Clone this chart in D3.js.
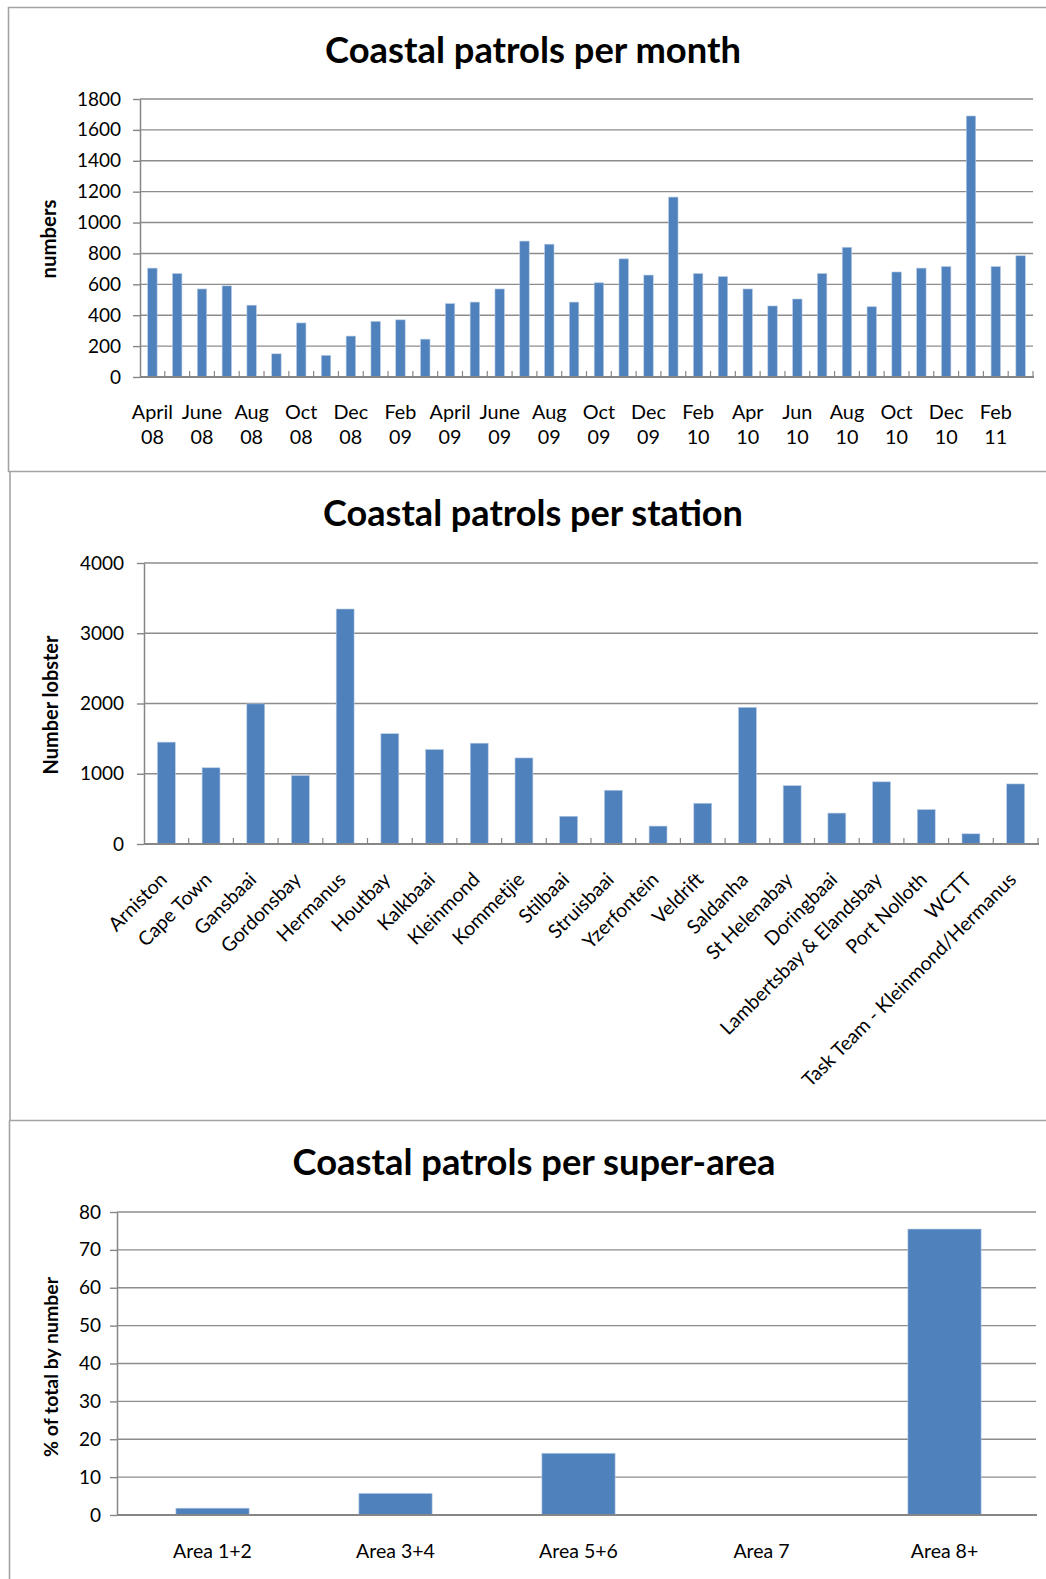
<!DOCTYPE html>
<html><head><meta charset="utf-8">
<script src="https://cdn.jsdelivr.net/npm/d3@7"></script>
<style>
html,body{margin:0;padding:0;background:#fff;}
svg{display:block;font-family:Lato,"Open Sans",sans-serif;}
</style></head>
<body>
<svg id="c" width="1046" height="1579"></svg>
<script>
// ---------- DATA ----------
const months = ["Apr 08","May 08","Jun 08","Jul 08","Aug 08","Sep 08","Oct 08","Nov 08","Dec 08","Jan 09","Feb 09","Mar 09",
  "Apr 09","May 09","Jun 09","Jul 09","Aug 09","Sep 09","Oct 09","Nov 09","Dec 09","Jan 10","Feb 10","Mar 10",
  "Apr 10","May 10","Jun 10","Jul 10","Aug 10","Sep 10","Oct 10","Nov 10","Dec 10","Jan 11","Feb 11","Mar 11"];
const patrolsPerMonth = [705,670,570,590,465,150,350,140,265,360,370,245,
  475,485,570,880,860,485,610,765,660,1165,670,650,
  570,460,505,670,840,455,680,705,715,1690,715,785];
const monthTickLabels = [["April","08"],["June","08"],["Aug","08"],["Oct","08"],["Dec","08"],["Feb","09"],
  ["April","09"],["June","09"],["Aug","09"],["Oct","09"],["Dec","09"],["Feb","10"],
  ["Apr","10"],["Jun","10"],["Aug","10"],["Oct","10"],["Dec","10"],["Feb","11"]];
const monthYTicks = [0,200,400,600,800,1000,1200,1400,1600,1800];

const stations = ["Arniston","Cape Town","Gansbaai","Gordonsbay","Hermanus","Houtbay","Kalkbaai","Kleinmond","Kommetjie",
  "Stilbaai","Struisbaai","Yzerfontein","Veldrift","Saldanha","St Helenabay","Doringbaai","Lambertsbay & Elandsbay",
  "Port Nolloth","WCTT","Task Team - Kleinmond/Hermanus"];
const lobsterPerStation = [1450,1085,1995,975,3345,1570,1345,1435,1225,395,765,255,580,1945,830,440,885,490,145,855];
const stationYTicks = [0,1000,2000,3000,4000];

const areas = ["Area 1+2","Area 3+4","Area 5+6","Area 7","Area 8+"];
const percentByArea = [1.8,5.7,16.3,0,75.5];
const areaYTicks = [0,10,20,30,40,50,60,70,80];

// ---------- STYLE ----------
const BAR = "#4f81bd", GRID = "#8c8c8c", AXIS = "#868686", FRAME = "#a3a3a3", TXT = "#000";
const svg = d3.select("#c");

// panel frames
const frames = svg.append("g").attr("fill","none").attr("stroke",FRAME).attr("stroke-width",1.6);
frames.append("path").attr("d","M1050,7.5H8.5V471.5H1050");
frames.append("path").attr("d","M10,471.5V1120.5H1050");
frames.append("path").attr("d","M9.5,1120.5V1585");

function fitText(sel, target){
  const w = sel.node().getComputedTextLength();
  const fs = parseFloat(sel.attr("font-size"));
  sel.attr("font-size", fs*target/w);
}

function chart(cfg){
  const g = svg.append("g");
  const ax = cfg.ax !== undefined ? cfg.ax : cfg.x0;
  const x = d3.scaleBand().domain(cfg.cats).range([cfg.x0,cfg.x1]).paddingInner(cfg.pad).paddingOuter(cfg.pad/2);
  const y = d3.scaleLinear().domain([0,cfg.ymax]).range([cfg.yb,cfg.yt]);
  // gridlines
  g.append("g").selectAll("line").data(cfg.yticks.filter(d=>d>0)).join("line")
    .attr("x1",ax).attr("x2",cfg.x1).attr("y1",d=>y(d)).attr("y2",d=>y(d))
    .attr("stroke",GRID).attr("stroke-width",1.4);
  // y axis
  const ya = g.append("g").attr("transform",`translate(${ax},0)`)
    .call(d3.axisLeft(y).tickValues(cfg.yticks).tickFormat(d3.format("d")).tickSize(7).tickPadding(cfg.tickPad||12).tickSizeOuter(0));
  ya.select(".domain").attr("stroke",AXIS).attr("stroke-width",1.5);
  ya.selectAll(".tick line").attr("stroke",AXIS).attr("stroke-width",1.4);
  ya.selectAll("text").attr("font-family","Lato").attr("font-size",cfg.tickFs).attr("fill",TXT);
  // bars
  g.append("g").selectAll("rect").data(cfg.vals).join("rect")
    .attr("x",(d,i)=>x(cfg.cats[i])).attr("width",x.bandwidth())
    .attr("y",d=>y(d)).attr("height",d=>cfg.yb-y(d))
    .attr("fill",BAR).attr("stroke","#b7cbe4").attr("stroke-width",0.6);
  // x axis line
  g.append("line").attr("x1",ax).attr("x2",cfg.x1+1).attr("y1",cfg.yb).attr("y2",cfg.yb)
    .attr("stroke",AXIS).attr("stroke-width",1.8);
  if(cfg.catTicks){
    const step = x.step();
    const edges = d3.range(cfg.cats.length+1).map(i=>cfg.x0 + i*step);
    g.append("g").selectAll("line").data(edges.slice(1)).join("line")
      .attr("x1",d=>d).attr("x2",d=>d).attr("y1",cfg.yb).attr("y2",cfg.yb-6)
      .attr("stroke",AXIS).attr("stroke-width",1.2);
  }
  // title
  const t = g.append("text").attr("x",cfg.tx).attr("y",cfg.ty).attr("text-anchor","middle")
    .attr("font-family","Lato").attr("font-weight","bold").attr("font-size",30).attr("fill",TXT).text(cfg.title);
  fitText(t, cfg.tw);
  // y title
  const yt = g.append("text").attr("transform",`translate(${cfg.ytx},${cfg.yty}) rotate(-90)`)
    .attr("text-anchor","middle").attr("font-family","Lato").attr("font-weight","bold")
    .attr("font-size",17).attr("fill",TXT).text(cfg.ytitle);
  fitText(yt, cfg.ytw);
  return {g,x,y};
}

// Chart 1
const c1 = chart({cats:months, vals:patrolsPerMonth, x0:140, x1:1033, yb:377, yt:99, ymax:1800, yticks:monthYTicks,
  pad:0.62, tickFs:19, tickPad:12, catTicks:true, title:"Coastal patrols per month", tx:533, ty:63, tw:416,
  ytitle:"numbers", ytx:56, yty:239, ytw:79});
c1.g.append("g").selectAll("text").data(monthTickLabels).join("text")
  .attr("x",(d,i)=>c1.x(months[i*2])+c1.x.bandwidth()/2).attr("y",419)
  .attr("text-anchor","middle").attr("font-family","Lato").attr("font-size",19.8).attr("fill",TXT)
  .each(function(d){
    const s=d3.select(this);
    s.append("tspan").attr("x",s.attr("x")).attr("dy",0).text(d[0]);
    s.append("tspan").attr("x",s.attr("x")).attr("dy",25).text(d[1]);
  });

// Chart 2
const c2 = chart({cats:stations, vals:lobsterPerStation, x0:144, x1:1038, yb:844, yt:563, ymax:4000, yticks:stationYTicks,
  pad:0.6, tickFs:19, tickPad:13, catTicks:true, title:"Coastal patrols per station", tx:533, ty:526, tw:420,
  ytitle:"Number lobster", ytx:58, yty:705, ytw:139});
c2.g.append("g").selectAll("text").data(stations).join("text")
  .attr("transform",d=>`translate(${c2.x(d)+c2.x.bandwidth()/2-3},${844+32}) rotate(-45)`)
  .attr("text-anchor","end").attr("font-family","Lato").attr("font-size",19.5).attr("fill",TXT)
  .attr("dy","0.35em").text(d=>d);

// Chart 3
const c3 = chart({cats:areas, vals:percentByArea, ax:117, x0:121, x1:1036, yb:1515, yt:1212, ymax:80, yticks:areaYTicks,
  pad:0.6, tickFs:19, tickPad:9, catTicks:false, title:"Coastal patrols per super-area", tx:534, ty:1175, tw:483,
  ytitle:"% of total by number", ytx:58, yty:1367, ytw:180});
c3.g.append("g").selectAll("text").data(areas).join("text")
  .attr("x",d=>c3.x(d)+c3.x.bandwidth()/2).attr("y",1558)
  .attr("text-anchor","middle").attr("font-family","Lato").attr("font-size",19.5).attr("fill",TXT).text(d=>d);
</script>
</body></html>
